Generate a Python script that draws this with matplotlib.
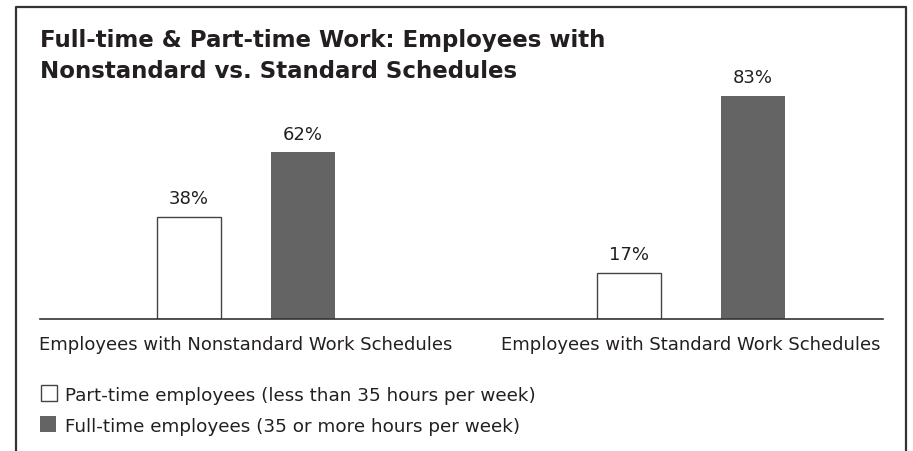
import matplotlib.pyplot as plt
from matplotlib.lines import Line2D
from matplotlib.patches import Rectangle

plt.rcParams['font.family'] = ['DejaVu Sans']

# data
groups = ['Employees with Nonstandard Work Schedules', 'Employees with Standard Work Schedules']
part_time = [38, 17]
full_time = [62, 83]
series_names = ['Part-time employees (less than 35 hours per week)',
                'Full-time employees (35 or more hours per week)']
title_lines = ['Full-time & Part-time Work: Employees with',
               'Nonstandard vs. Standard Schedules']

W, H = 913, 452
DARK = '#646464'
TEXT = '#231f20'

fig = plt.figure(figsize=(W / 100, H / 100), dpi=100)


def fx(x):
    return x / W


def fy(y):
    # pixel measured from top -> figure fraction
    return 1 - y / H


# frame around the chart (bottom edge runs off the image)
fig.add_artist(Line2D([fx(16), fx(16), fx(906), fx(906)],
                      [fy(H + 5), fy(7.5), fy(7.5), fy(H + 5)],
                      color='#333333', lw=1.6, transform=fig.transFigure))

# axes: baseline at y=319.5 px, x from 40 to 883 px
base = 319.5
top = 20
px_per_pct = 2.68
ax = fig.add_axes([fx(40), fy(base), fx(883 - 40), (base - top) / H])
ax.set_ylim(0, (base - top) / px_per_pct)
ax.set_xlim(-0.463, 1.432)

x = [0, 1]
offsets = [0.128, 0.139]
width = 0.144
b1 = ax.bar([i - o for i, o in zip(x, offsets)], part_time, width, color='white',
            edgecolor='#444444', linewidth=1.0)
b2 = ax.bar([i + o for i, o in zip(x, offsets)], full_time, width, color=DARK, linewidth=0)

for bars, vals in ((b1, part_time), (b2, full_time)):
    for r, v in zip(bars, vals):
        ax.annotate(f'{v}%', (r.get_x() + r.get_width() / 2, v),
                    xytext=(0, 9.8), textcoords='offset points',
                    ha='center', va='baseline', fontsize=13, color=TEXT)

for s in ['top', 'right', 'left']:
    ax.spines[s].set_visible(False)
ax.spines['bottom'].set_color('#333333')
ax.spines['bottom'].set_linewidth(1.2)
ax.set_xticks([])
ax.set_yticks([])

for i, g in enumerate(groups):
    ax.text(i, -(350 - base) / (base - top), g, transform=ax.get_xaxis_transform(),
            ha='center', va='baseline', fontsize=13, color=TEXT)

# title
fig.text(fx(40), fy(46.7), title_lines[0], ha='left', va='baseline',
         fontsize=16.5, fontweight='bold', color=TEXT)
fig.text(fx(40), fy(77.5), title_lines[1], ha='left', va='baseline',
         fontsize=16.5, fontweight='bold', color=TEXT)

# legend
fig.add_artist(Rectangle((fx(40.5), fy(401.5)), fx(16), 16 / H, facecolor='white',
                         edgecolor='#444444', lw=1.0, transform=fig.transFigure))
fig.add_artist(Rectangle((fx(40), fy(433)), fx(16), 16 / H, facecolor=DARK,
                         edgecolor='none', transform=fig.transFigure))
fig.text(fx(65), fy(401), series_names[0], ha='left', va='baseline',
         fontsize=13.2, color=TEXT)
fig.text(fx(65), fy(432.5), series_names[1], ha='left', va='baseline',
         fontsize=13.2, color=TEXT)

fig.savefig('out.png', dpi=100)
